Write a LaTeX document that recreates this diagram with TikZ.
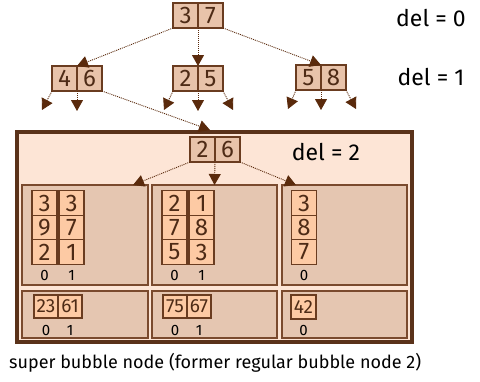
\documentclass[tikz,border=0pt]{standalone}
\usepackage{fontspec}
\setmainfont{Fira Sans}
\usetikzlibrary{arrows.meta}
\definecolor{framebrown}{HTML}{5A321A}
\definecolor{cellline}{HTML}{6A3C20}
\definecolor{digitbrown}{HTML}{4E2B16}
\definecolor{treefill}{HTML}{E8C3AA}
\definecolor{superfill}{HTML}{FDE5D6}
\definecolor{binfill}{HTML}{E5C6B1}
\definecolor{binline}{HTML}{7A4A2E}
\definecolor{slotfill}{HTML}{FDCAA4}
\definecolor{arrowbrown}{HTML}{5A2A0C}
\begin{document}
\begin{tikzpicture}[x=1pt,y=-1pt,
  treecell/.style={draw=cellline, fill=treefill, line width=1.2pt,
    minimum width=25pt, minimum height=25pt, inner sep=0pt, outer sep=0pt,
    text=digitbrown, font=\fontsize{24}{24}\selectfont},
  slot/.style={draw=cellline, fill=slotfill, line width=1.2pt,
    minimum width=25pt, minimum height=24.5pt, inner sep=0pt, outer sep=0pt,
    text=digitbrown, font=\fontsize{24}{24}\selectfont},
  pair/.style={draw=cellline, fill=slotfill, line width=1.2pt,
    minimum width=24pt, minimum height=23pt, inner sep=0pt, outer sep=0pt,
    text=digitbrown, font=\fontsize{19}{19}\selectfont},
  bin/.style={draw=binline, fill=binfill, line width=1.4pt, inner sep=0pt, outer sep=0pt},
  idx/.style={inner sep=0pt, font=\fontsize{15}{15}\selectfont},
  deltxt/.style={inner sep=0pt, font=\fontsize{23}{23}\selectfont},
  conn/.style={draw=arrowbrown, line width=0.9pt, dash pattern=on 1pt off 1pt,
    -{Triangle[length=11pt,width=12pt,fill=arrowbrown]}}
]
\useasboundingbox (0,0) rectangle (480,381);

% super bubble node frame
\node[draw=framebrown, fill=superfill, line width=4pt, minimum width=395pt,
  minimum height=210pt, inner sep=0pt, outer sep=0pt] (sb) at (214.5,237) {};

% upper tree levels
\node[treecell] (a3) at (185.5,15.5) {3};
\node[treecell] (a7) at (210.5,15.5) {7};
\node[treecell] (b4) at (64.5,78.5) {4};
\node[treecell] (b6) at (89.5,78.5) {6};
\node[treecell] (c2) at (185.5,78.5) {2};
\node[treecell] (c5) at (210.5,78.5) {5};
\node[treecell] (d5) at (308.5,77.5) {5};
\node[treecell] (d8) at (333.5,77.5) {8};

% router of the super node
\node[treecell] (e2) at (202.5,149.5) {2};
\node[treecell] (e6) at (227.5,149.5) {6};

% bins
\node[bin, minimum width=126pt, minimum height=100pt] (tl) at (85,235) {};
\node[bin, minimum width=125pt, minimum height=100pt] (tm) at (214.5,235) {};
\node[bin, minimum width=125pt, minimum height=100pt] (tr) at (344.5,235) {};
\node[bin, minimum width=126pt, minimum height=47pt] (bl) at (85,314.5) {};
\node[bin, minimum width=125pt, minimum height=47pt] (bm) at (214.5,314.5) {};
\node[bin, minimum width=125pt, minimum height=47pt] (br) at (344.5,314.5) {};

% slots of the left bin
\node[slot] (s11) at (44.5,203) {3};
\node[slot] (s12) at (44.5,227.5) {9};
\node[slot] (s13) at (44.5,252) {2};
\node[slot] (s21) at (71.5,203) {3};
\node[slot] (s22) at (71.5,227.5) {7};
\node[slot] (s23) at (71.5,252) {1};
\node[idx] (i10) at (44.5,275) {0};
\node[idx] (i11) at (71.5,275) {1};

% slots of the middle bin
\node[slot] (t11) at (174.5,203) {2};
\node[slot] (t12) at (174.5,227.5) {7};
\node[slot] (t13) at (174.5,252) {5};
\node[slot] (t21) at (201.5,203) {1};
\node[slot] (t22) at (201.5,227.5) {8};
\node[slot] (t23) at (201.5,252) {3};
\node[idx] (i20) at (174.5,275) {0};
\node[idx] (i21) at (201.5,275) {1};

% slots of the right bin
\node[slot] (u11) at (304,203) {3};
\node[slot] (u12) at (304,227.5) {8};
\node[slot] (u13) at (304,252) {7};
\node[idx] (i30) at (304,275) {0};

% packed pairs
\node[pair] (q1) at (46,306.5) {23};
\node[pair] (q2) at (70,306.5) {61};
\node[idx] (j10) at (46,330) {0};
\node[idx] (j11) at (70,330) {1};
\node[pair] (q3) at (175,306.5) {75};
\node[pair] (q4) at (199,306.5) {67};
\node[idx] (j20) at (175,330) {0};
\node[idx] (j21) at (199,330) {1};
\node[pair, minimum width=25pt, minimum height=24pt] (q5) at (303.5,307) {42};
\node[idx] (j30) at (303.5,330) {0};

% level labels and caption
\node[deltxt] (del0) at (431,18) {del = 0};
\node[deltxt] (del1) at (431,77) {del = 1};
\node[deltxt] (del2) at (326,152) {del = 2};
\node[anchor=west, inner sep=0pt, font=\fontsize{18}{18}\selectfont] (cap) at (9,363)
  {super bubble node (former regular bubble node 2)};

% free ends of the pointers
\coordinate (l1) at (42,110);
\coordinate (l2) at (77,111);
\coordinate (l3) at (164,110);
\coordinate (l4) at (198,111);
\coordinate (l5) at (233,110);
\coordinate (l6) at (288,109);
\coordinate (l7) at (321,110);
\coordinate (l8) at (356,109);
\coordinate (sbin) at (210,130);
\coordinate (tlin) at (133,185);
\coordinate (trin) at (296,185);

% pointers
\draw[conn] (a3.south west) -- (b4.north east);
\draw[conn] (a3.south east) -- (c2.north east);
\draw[conn] (a7.south east) -- (d5.north east);
\draw[conn] (b4.south west) -- (l1);
\draw[conn] (b4.south east) -- (l2);
\draw[conn] (b6.south east) -- (sbin);
\draw[conn] (c2.south west) -- (l3);
\draw[conn] (c2.south east) -- (l4);
\draw[conn] (c5.south east) -- (l5);
\draw[conn] (d5.south west) -- (l6);
\draw[conn] (d5.south east) -- (l7);
\draw[conn] (d8.south east) -- (l8);
\draw[conn] (e2.south west) -- (tlin);
\draw[conn] (e2.south east) -- (tm.north);
\draw[conn] (e6.south east) -- (trin);
\end{tikzpicture}
\end{document}
